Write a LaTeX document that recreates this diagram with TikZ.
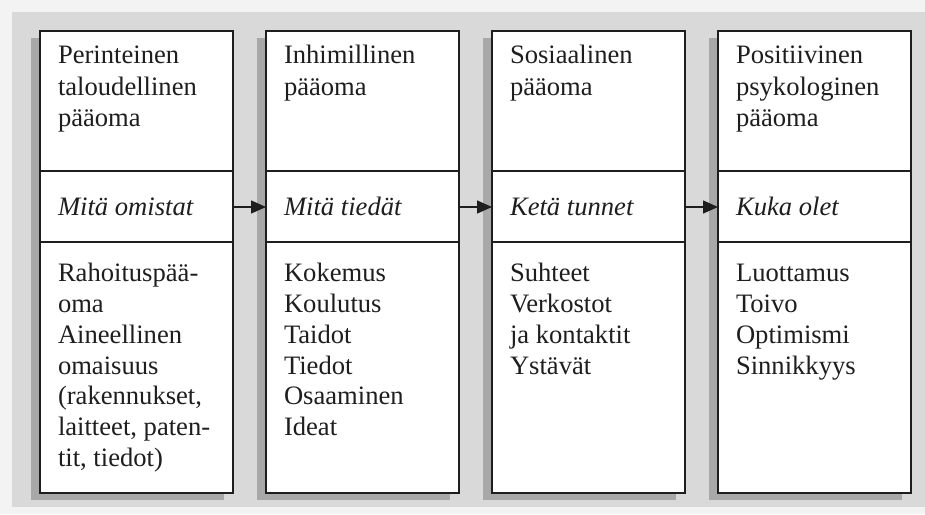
\documentclass[tikz,border=0pt]{standalone}
\usepackage{fontspec}
\setmainfont{Liberation Serif}
\usetikzlibrary{arrows.meta,shadows}

\definecolor{pagebg}{HTML}{F3F3F3}
\definecolor{panelbg}{HTML}{D9D9D9}
\definecolor{shadowgray}{HTML}{A8A8A8}
\definecolor{ink}{HTML}{1E1E1E}

% several lines set flush left, the node's baseline being that of the first line
\newcommand{\cellstack}[2][15.4pt]{\fontsize{13.3pt}{#1}\selectfont\begin{tabular}[t]{@{}l@{}}#2\end{tabular}}

\tikzset{
  capbox/.style={draw=ink, line width=0.8pt, fill=white, rectangle,
    minimum width=96.5pt, minimum height=231pt, inner sep=0pt, outer sep=0pt,
    drop shadow={shadow xshift=-4.5pt, shadow yshift=-3.5pt, fill=shadowgray, opacity=1}},
  divider/.style={draw=ink, line width=0.8pt},
  txt/.style={anchor=base west, inner sep=0pt, outer sep=0pt, text=ink,
    font=\fontsize{13.3pt}{15.4pt}\selectfont},
  flow/.style={draw=ink, line width=0.7pt, -{Triangle[length=7.5pt,width=6.5pt]}},
}

\begin{document}
\begin{tikzpicture}[x=0.5pt,y=-0.5pt]
  % canvas and panel
  \fill[pagebg] (0,0) rectangle (925,514);
  \useasboundingbox (0,0) rectangle (925,514);
  \fill[panelbg] (12,12) rectangle (925,507);

  % the four columns
  \node[capbox] (b1) at (136.5,262) {};
  \node[capbox] (b2) at (362.5,262) {};
  \node[capbox] (b3) at (588.5,262) {};
  \node[capbox] (b4) at (814.5,262) {};

  % row separators
  \foreach \b in {b1,b2,b3,b4} {
    \draw[divider] (\b.west |- 0,171) -- (\b.east |- 0,171);
    \draw[divider] (\b.west |- 0,242) -- (\b.east |- 0,242);
  }

  % headings
  \node[txt] (h1) at (58,63.3) {\cellstack[15.85pt]{Perinteinen\\taloudellinen\\pääoma}};
  \node[txt] (h2) at (284,63.3) {\cellstack[15.85pt]{Inhimillinen\\pääoma}};
  \node[txt] (h3) at (510,63.3) {\cellstack[15.85pt]{Sosiaalinen\\pääoma}};
  \node[txt] (h4) at (736,63.3) {\cellstack[15.85pt]{Positiivinen\\psykologinen\\pääoma}};

  % questions
  \node[txt] (q1) at (58,215) {\itshape Mitä omistat};
  \node[txt] (q2) at (284,215) {\itshape Mitä tiedät};
  \node[txt] (q3) at (510,215) {\itshape Ketä tunnet};
  \node[txt] (q4) at (736,215) {\itshape Kuka olet};

  % contents
  \node[txt] (c1) at (58,281.7) {\cellstack{Rahoituspää-\\oma\\Aineellinen\\omaisuus\\(rakennukset,\\laitteet, paten-\\tit, tiedot)}};
  \node[txt] (c2) at (284,281.7) {\cellstack{Kokemus\\Koulutus\\Taidot\\Tiedot\\Osaaminen\\Ideat}};
  \node[txt] (c3) at (510,281.7) {\cellstack{Suhteet\\Verkostot\\ja kontaktit\\Ystävät}};
  \node[txt] (c4) at (736,281.7) {\cellstack{Luottamus\\Toivo\\Optimismi\\Sinnikkyys}};

  % arrows between the columns
  \coordinate (lvl) at (0,207);
  \draw[flow] (b1.east |- lvl) -- (b2.west |- lvl);
  \draw[flow] (b2.east |- lvl) -- (b3.west |- lvl);
  \draw[flow] (b3.east |- lvl) -- (b4.west |- lvl);
\end{tikzpicture}
\end{document}
